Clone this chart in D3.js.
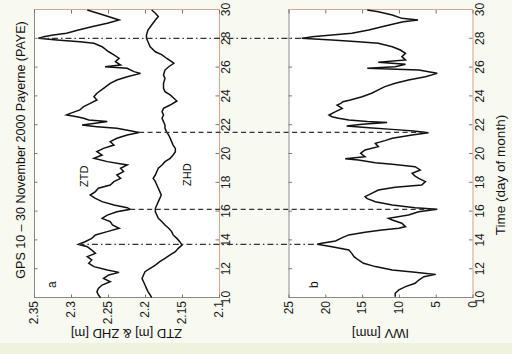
<!DOCTYPE html>
<html>
<head>
<meta charset="utf-8">
<script src="https://cdn.jsdelivr.net/npm/d3@7"></script>
<style>
  body { margin: 0; background: #f8f9f1; }
  svg { display: block; }
</style>
</head>
<body>
<svg id="chart" width="512" height="354"></svg>
<script>
// ---- data (day of November 2000) ----
const ztdDays = [10.02,10.21,10.44,10.67,10.90,11.13,11.36,11.60,11.78,11.94,
  12.18,12.41,12.64,12.87,13.10,13.33,13.56,13.73,13.91,14.14,
  14.38,14.61,14.84,15.07,15.30,15.53,15.76,15.99,16.16,16.27,
  16.46,16.69,16.92,17.15,17.39,17.62,17.85,18.08,18.31,18.54,
  18.78,19.01,19.24,19.47,19.70,19.93,20.16,20.39,20.62,20.86,
  21.09,21.32,21.50,21.62,21.78,21.90,22.01,22.13,22.25,22.36,
  22.48,22.59,22.71,22.82,23.06,23.29,23.52,23.75,23.98,24.22,
  24.56,24.91,25.14,25.37,25.60,25.72,25.95,26.06,26.18,26.41,
  26.65,26.88,27.10,27.45,27.69,27.80,27.92,28.03,28.15,28.26,
  28.38,28.61,28.84,29.08,29.31,29.65,30.00];
const ztdValues = [2.260,2.263,2.265,2.263,2.258,2.247,2.256,2.249,2.235,2.251,
  2.269,2.276,2.272,2.278,2.267,2.272,2.278,2.290,2.281,2.272,
  2.267,2.251,2.235,2.244,2.247,2.258,2.251,2.238,2.220,2.224,
  2.242,2.258,2.267,2.274,2.267,2.263,2.247,2.242,2.233,2.238,
  2.229,2.233,2.224,2.251,2.269,2.258,2.265,2.256,2.242,2.247,
  2.238,2.224,2.208,2.220,2.238,2.265,2.285,2.267,2.251,2.276,
  2.283,2.292,2.306,2.301,2.288,2.283,2.274,2.265,2.269,2.265,
  2.256,2.247,2.238,2.224,2.206,2.215,2.224,2.254,2.233,2.240,
  2.235,2.242,2.249,2.258,2.269,2.288,2.319,2.344,2.337,2.324,
  2.306,2.290,2.272,2.251,2.235,2.256,2.278];

const zhdDays = [10.02,10.21,10.44,10.67,10.90,11.13,11.36,11.60,11.83,12.06,
  12.29,12.52,12.76,12.99,13.22,13.45,13.68,13.91,14.14,14.38,
  14.61,14.84,15.07,15.30,15.53,15.76,15.99,16.23,16.46,16.69,
  16.92,17.15,17.39,17.62,17.85,18.08,18.31,18.54,18.78,19.01,
  19.24,19.47,19.70,19.93,20.16,20.39,20.62,20.86,21.09,21.32,
  21.55,21.78,22.01,22.25,22.48,22.71,22.94,23.17,23.40,23.68,
  23.87,24.10,24.33,24.56,24.91,25.25,25.49,25.83,26.06,26.30,
  26.41,26.65,26.88,27.10,27.45,27.80,28.03,28.26,28.61,28.96,
  29.31,29.54,29.77,30.00];
const zhdValues = [2.191,2.193,2.196,2.198,2.200,2.202,2.204,2.202,2.200,2.193,
  2.186,2.180,2.173,2.166,2.159,2.155,2.150,2.153,2.157,2.162,
  2.164,2.168,2.173,2.177,2.182,2.184,2.186,2.186,2.184,2.182,
  2.180,2.178,2.180,2.182,2.184,2.186,2.189,2.186,2.184,2.182,
  2.177,2.173,2.166,2.162,2.159,2.159,2.162,2.164,2.166,2.168,
  2.171,2.173,2.173,2.175,2.177,2.175,2.177,2.175,2.166,2.157,
  2.161,2.166,2.173,2.175,2.175,2.173,2.175,2.173,2.168,2.161,
  2.164,2.171,2.177,2.186,2.193,2.196,2.198,2.198,2.196,2.191,
  2.186,2.182,2.186,2.191];

const iwvDays = [10.09,10.33,10.56,10.79,11.02,11.25,11.48,11.64,11.78,11.94,
  12.18,12.41,12.64,12.87,13.10,13.33,13.56,13.73,13.80,13.96,
  14.19,14.38,14.56,14.73,14.84,14.96,15.19,15.42,15.53,15.76,
  15.99,16.16,16.27,16.46,16.69,16.90,17.04,17.27,17.50,17.69,
  17.85,18.08,18.31,18.47,18.66,18.89,19.12,19.28,19.40,19.58,
  19.67,19.81,20.05,20.28,20.51,20.74,20.93,21.09,21.32,21.48,
  21.60,21.71,21.83,21.94,22.06,22.18,22.25,22.36,22.48,22.59,
  22.71,22.94,23.17,23.40,23.52,23.63,23.75,23.98,24.22,24.45,
  24.68,24.91,25.14,25.37,25.60,25.83,25.95,26.06,26.23,26.37,
  26.53,26.76,26.99,27.22,27.45,27.69,27.80,27.92,28.03,28.15,
  28.26,28.38,28.61,28.84,29.08,29.19,29.31,29.42,29.65,29.88,
  30.00];
const iwvValues = [10.5,10.5,10.0,9.1,7.8,7.3,6.6,5.0,7.8,10.9,
  13.2,14.8,15.5,16.1,16.4,16.8,19.1,21.1,20.5,18.6,
  17.7,16.8,14.6,12.3,10.0,9.1,9.6,10.9,11.4,8.7,
  7.3,4.8,7.8,10.9,13.2,14.3,14.6,13.7,12.8,10.5,
  6.9,6.4,7.3,7.8,8.2,7.1,7.8,10.9,13.2,15.5,
  17.3,14.6,15.2,14.6,12.8,13.2,11.9,10.9,8.2,6.0,
  8.0,10.9,14.1,17.1,15.0,11.6,14.3,16.8,18.2,19.1,
  19.5,18.6,17.7,18.4,17.9,17.6,16.6,15.0,13.7,12.8,
  11.9,10.5,8.7,6.4,4.8,7.3,14.3,10.5,9.1,12.8,
  9.1,9.6,9.1,9.8,10.9,12.8,15.5,19.1,23.2,21.8,
  19.1,16.4,14.1,12.3,10.3,9.4,7.4,9.6,10.9,12.8,
  14.3];

// marked events (vertical lines linking panel a and b)
const eventDays = [13.73, 16.16, 21.5, 28.03];
const eventStyles = ['dashdot', 'dash', 'dash', 'dashdot'];

const dayTicks = [10, 12, 14, 16, 18, 20, 22, 24, 26, 28, 30];
const ztdTicks = [2.1, 2.15, 2.2, 2.25, 2.3, 2.35];
const ztdTickLabels = ['2.1', '2.15', '2.2', '2.25', '2.3', '2.35'];
const iwvTicks = [0, 5, 10, 15, 20, 25];
const iwvTickLabels = ['0', '5', '10', '15', '20', '25'];

// ---- drawing ----
// the figure is drawn upright in a 354 x 512 frame and turned a quarter turn
const W = 354;
const font = "'Liberation Sans', Arial, Helvetica, sans-serif";

const svg = d3.select('#chart');
svg.append('rect').attr('width', 512).attr('height', 354).attr('fill', '#f8f9f1');
svg.append('rect').attr('y', 343).attr('width', 512).attr('height', 11).attr('fill', '#eff2dc');

const g = svg.append('g')
  .attr('transform', `translate(0,${W}) rotate(-90)`)
  .style('font-family', font);

const x = d3.scaleLinear().domain([10, 30]).range([56, 344]);
const yA = d3.scaleLinear().domain([2.1, 2.35]).range([219, 34]);
const yB = d3.scaleLinear().domain([0, 25]).range([472.5, 288.5]);

function drawPanel(y, ticks, labels) {
  const [bottom, top] = y.range();
  g.append('rect')
    .attr('x', x(10)).attr('y', top)
    .attr('width', x(30) - x(10)).attr('height', bottom - top)
    .attr('fill', '#fff');

  const axB = g.append('g').attr('transform', `translate(0,${bottom})`)
    .call(d3.axisBottom(x).tickValues(dayTicks).tickSizeInner(-3.5).tickSizeOuter(0).tickPadding(2.5));
  const axT = g.append('g').attr('transform', `translate(0,${top})`)
    .call(d3.axisTop(x).tickValues(dayTicks).tickSizeInner(-3.5).tickSizeOuter(0).tickFormat(''));
  const axL = g.append('g').attr('transform', `translate(${x(10)},0)`)
    .call(d3.axisLeft(y).tickValues(ticks).tickSizeInner(-3.5).tickSizeOuter(0).tickPadding(3)
      .tickFormat((d, i) => labels[i]));
  const axR = g.append('g').attr('transform', `translate(${x(30)},0)`)
    .call(d3.axisRight(y).tickValues(ticks).tickSizeInner(-3.5).tickSizeOuter(0).tickFormat(''));

  [axB, axT, axL, axR].forEach(a => {
    a.attr('font-family', font).attr('font-size', 12);
    a.selectAll('.tick line').attr('stroke', '#777');
    a.selectAll('.tick text').attr('fill', '#1a1a1a');
  });
  // the scan shows the lower/right frame edges tinted
  [axB, axR].forEach(a => a.select('.domain').attr('stroke', '#dda28e'));
  [axT, axL].forEach(a => a.select('.domain').attr('stroke', '#8a8a8a'));
}

drawPanel(yA, ztdTicks, ztdTickLabels);
drawPanel(yB, iwvTicks, iwvTickLabels);

const lineA = d3.line().x(d => x(d[0])).y(d => yA(d[1]));
const lineB = d3.line().x(d => x(d[0])).y(d => yB(d[1]));

g.append('path').datum(d3.zip(zhdDays, zhdValues))
  .attr('d', lineA).attr('fill', 'none').attr('stroke', '#111').attr('stroke-width', 1.5);
g.append('path').datum(d3.zip(ztdDays, ztdValues))
  .attr('d', lineA).attr('fill', 'none').attr('stroke', '#111').attr('stroke-width', 1.5);
g.append('path').datum(d3.zip(iwvDays, iwvValues))
  .attr('d', lineB).attr('fill', 'none').attr('stroke', '#111').attr('stroke-width', 1.5);

// event lines: from the ZTD curve down to the IWV curve
function valueAt(days, values, day) {
  const i = d3.leastIndex(days, d => Math.abs(d - day));
  return values[i];
}
eventDays.forEach((day, i) => {
  g.append('line')
    .attr('x1', x(day)).attr('x2', x(day))
    .attr('y1', yA(valueAt(ztdDays, ztdValues, day)))
    .attr('y2', yB(valueAt(iwvDays, iwvValues, day)))
    .attr('stroke', '#333').attr('stroke-width', 1.3)
    .attr('stroke-dasharray', eventStyles[i] === 'dash' ? '5,3.5' : '6,3,1.5,3');
});

// texts
g.append('text').attr('x', 204).attr('y', 24.5).attr('text-anchor', 'middle')
  .attr('font-size', 12.5).attr('fill', '#111')
  .text('GPS 10 \u2013 30 November 2000 Payerne (PAYE)');

g.append('text').attr('x', 179).attr('y', 505).attr('text-anchor', 'middle')
  .attr('font-size', 13.5).attr('fill', '#111')
  .text('Time (day of month)');

g.append('text').attr('transform', `translate(25,${(yA.range()[0] + yA.range()[1]) / 2}) rotate(-90)`)
  .attr('text-anchor', 'middle').attr('font-size', 13).attr('fill', '#111')
  .text('ZTD [m] & ZHD [m]');
g.append('text').attr('transform', `translate(25,${(yB.range()[0] + yB.range()[1]) / 2}) rotate(-90)`)
  .attr('text-anchor', 'middle').attr('font-size', 13).attr('fill', '#111')
  .text('IWV [mm]');

g.append('text').attr('x', 66).attr('y', 56).attr('font-size', 12).attr('fill', '#111').text('a');
g.append('text').attr('x', 66).attr('y', 318).attr('font-size', 12).attr('fill', '#111').text('b');
g.append('text').attr('x', 167).attr('y', 88).attr('font-size', 11).attr('fill', '#111').text('ZTD');
g.append('text').attr('x', 168).attr('y', 191).attr('font-size', 11).attr('fill', '#111').text('ZHD');
</script>
</body>
</html>
